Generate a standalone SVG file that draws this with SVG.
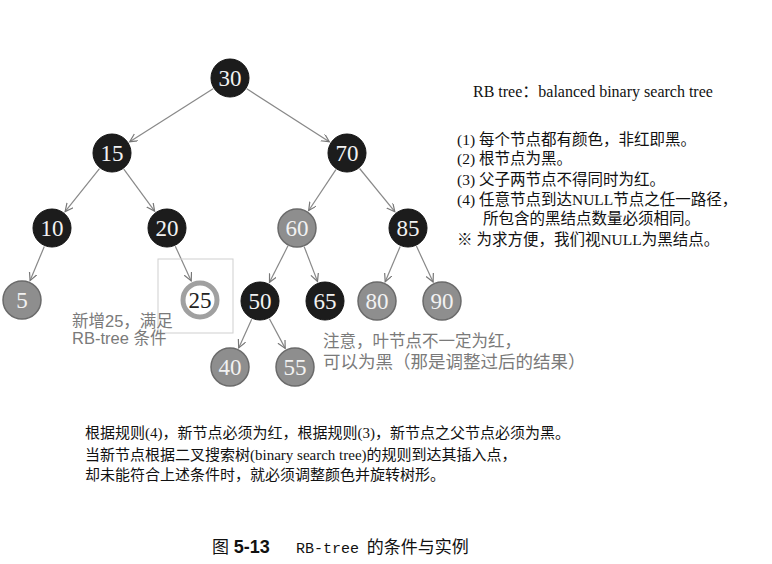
<svg xmlns="http://www.w3.org/2000/svg" width="772" height="564" viewBox="0 0 772 564">
<defs>
<marker id="arr" markerWidth="10" markerHeight="10" refX="8" refY="4" orient="auto" markerUnits="userSpaceOnUse">
<path d="M0,0 L8,4 L0,8" fill="none" stroke="#777" stroke-width="1.2"/>
</marker>
<style>
.e{stroke:#888;stroke-width:1.2;fill:none;marker-end:url(#arr)}
.blk{fill:#1c1c1c;stroke:#111;stroke-width:1}
.red{fill:#8e8e8e;stroke:#6a6a6a;stroke-width:1.5}
.nt{font-family:"Liberation Serif",serif;font-size:23px;fill:#f2f2f2;text-anchor:middle}
.note{font-family:"Liberation Sans","Noto Sans CJK SC",sans-serif;font-size:16.5px;fill:#7a7a7a}
.rule{font-family:"Liberation Serif","Noto Sans CJK SC",serif;font-size:15.5px;fill:#111}
</style>
</defs>
<rect width="772" height="564" fill="#fff"/>
<g id="connectors">
<line class="e" x1="213.1" y1="88.7" x2="129.7" y2="141.7"/>
<line class="e" x1="246.8" y1="88.8" x2="329.3" y2="141.7"/>
<line class="e" x1="99.5" y1="168.6" x2="65.1" y2="211.6"/>
<line class="e" x1="123.8" y1="169.1" x2="154.6" y2="211.1"/>
<line class="e" x1="335.9" y1="169.6" x2="308.7" y2="210.5"/>
<line class="e" x1="359.6" y1="168.5" x2="394.8" y2="211.7"/>
<line class="e" x1="44.3" y1="246.5" x2="30.1" y2="280.6"/>
<line class="e" x1="175.3" y1="246.2" x2="191.2" y2="280.9"/>
<line class="e" x1="288" y1="245.8" x2="269.5" y2="282.3"/>
<line class="e" x1="304.2" y1="246.7" x2="317.5" y2="281.4"/>
<line class="e" x1="400.2" y1="246.4" x2="385.2" y2="281.7"/>
<line class="e" x1="416.4" y1="246.1" x2="433.1" y2="282"/>
<line class="e" x1="251.7" y1="319.2" x2="238.7" y2="347.9"/>
<line class="e" x1="269.4" y1="318.7" x2="285.2" y2="348.4"/>
</g>
<rect x="158" y="259" width="75" height="74" fill="none" stroke="#cfcfcf" stroke-width="1"/>
<g id="n30"><circle class="blk" cx="230" cy="78" r="19"/><text class="nt" x="230" y="86">30</text></g>
<g id="n15"><circle class="blk" cx="112" cy="153" r="19"/><text class="nt" x="112" y="161">15</text></g>
<g id="n70"><circle class="blk" cx="347" cy="153" r="19"/><text class="nt" x="347" y="161">70</text></g>
<g id="n10"><circle class="blk" cx="52" cy="228" r="19"/><text class="nt" x="52" y="236">10</text></g>
<g id="n20"><circle class="blk" cx="167" cy="228" r="19"/><text class="nt" x="167" y="236">20</text></g>
<g id="n60"><circle class="red" cx="297" cy="228" r="19"/><text class="nt" x="297" y="236">60</text></g>
<g id="n85"><circle class="blk" cx="408" cy="228" r="19"/><text class="nt" x="408" y="236">85</text></g>
<g id="n5"><circle class="red" cx="22" cy="300" r="19"/><text class="nt" x="22" y="308">5</text></g>
<g id="n25"><circle cx="200" cy="300" r="17" fill="#fff" stroke="#a0a0a0" stroke-width="5"/><text class="nt" x="200" y="308" style="fill:#222">25</text></g>
<g id="n50"><circle class="blk" cx="260" cy="301" r="19"/><text class="nt" x="260" y="309">50</text></g>
<g id="n65"><circle class="blk" cx="325" cy="301" r="19"/><text class="nt" x="325" y="309">65</text></g>
<g id="n80"><circle class="red" cx="377" cy="301" r="19"/><text class="nt" x="377" y="309">80</text></g>
<g id="n90"><circle class="red" cx="442" cy="301" r="19"/><text class="nt" x="442" y="309">90</text></g>
<g id="n40"><circle class="red" cx="230" cy="367" r="19"/><text class="nt" x="230" y="375">40</text></g>
<g id="n55"><circle class="red" cx="295" cy="367" r="19"/><text class="nt" x="295" y="375">55</text></g>
<text class="note" x="72" y="327">新增25，满足</text>
<text class="note" x="72" y="344">RB-tree 条件</text>
<text class="note" x="323" y="347" font-size="17">注意，叶节点不一定为红，</text>
<text class="note" x="323" y="368" style="font-size:17.5px">可以为黑（那是调整过后的结果）</text>
<text class="rule" x="473" y="97" style="font-size:16px">RB tree：balanced binary search tree</text>
<text class="rule" x="457" y="145">(1) 每个节点都有颜色，非红即黑。</text>
<text class="rule" x="457" y="164">(2) 根节点为黑。</text>
<text class="rule" x="457" y="185">(3) 父子两节点不得同时为红。</text>
<text class="rule" x="457" y="205">(4) 任意节点到达NULL节点之任一路径，</text>
<text class="rule" x="483" y="224">所包含的黑结点数量必须相同。</text>
<text class="rule" x="457" y="245">※ 为求方便，我们视NULL为黑结点。</text>
<text class="rule" x="85" y="438" style="font-size:15px">根据规则(4)，新节点必须为红，根据规则(3)，新节点之父节点必须为黑。</text>
<text class="rule" x="85" y="460" style="font-size:15px">当新节点根据二叉搜索树(binary search tree)的规则到达其插入点，</text>
<text class="rule" x="85" y="480" style="font-size:15px">却未能符合上述条件时，就必须调整颜色并旋转树形。</text>
<text x="212" y="553" font-family="Liberation Sans,'Noto Sans CJK SC',sans-serif" font-size="17" fill="#111">图 <tspan font-weight="bold" font-size="18">5-13</tspan><tspan x="296" font-family="'Liberation Mono',monospace" font-size="15">RB-tree</tspan><tspan x="363" font-family="'Noto Sans CJK SC',sans-serif" font-size="17"> 的条件与实例</tspan></text>
</svg>
